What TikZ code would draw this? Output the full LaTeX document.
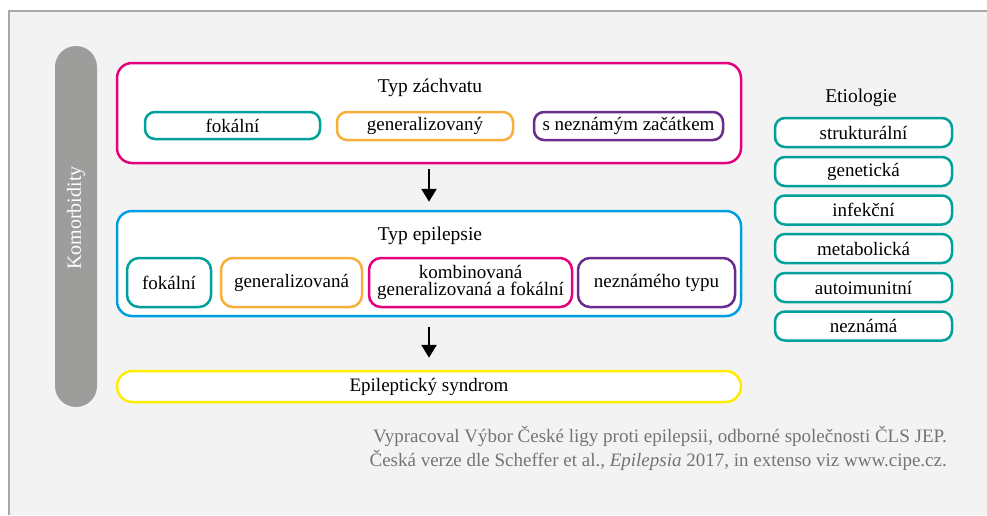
\documentclass[tikz,border=0pt]{standalone}
\usepackage{fontspec}
\setmainfont{Liberation Serif}
\usetikzlibrary{arrows.meta}
\definecolor{cmag}{HTML}{E5007D}
\definecolor{ccyan}{HTML}{009FE3}
\definecolor{cteal}{HTML}{00A19A}
\definecolor{corange}{HTML}{F8AE3A}
\definecolor{cpurple}{HTML}{6A2C8C}
\definecolor{cyellow}{HTML}{FFED00}
\definecolor{cbar}{HTML}{9D9D9C}
\definecolor{cbg}{HTML}{F3F3F3}
\definecolor{cframe}{HTML}{A8A8A8}
\definecolor{cfoot}{HTML}{747473}
\tikzset{
  bigbox/.style={draw, line width=2.5pt, fill=white, rounded corners=15pt, inner sep=0pt},
  pill/.style={draw, line width=2.5pt, fill=white, rounded corners=10pt, inner sep=0pt, font=\fontsize{19}{20}\selectfont, text=black},
  ebox/.style={pill, minimum width=177pt, minimum height=29pt, draw=cteal},
  lbl/.style={font=\fontsize{19.5}{22}\selectfont, text=black, inner sep=0pt},
  flow/.style={line width=2.5pt, -{Triangle[width=15pt,length=13pt]}},
  foot/.style={font=\fontsize{19}{24}\selectfont, text=cfoot, align=right, inner sep=0pt}
}
\begin{document}
\begin{tikzpicture}[x=1pt,y=-1pt]
\useasboundingbox (0,0) rectangle (987,515);
\fill[cbg] (9,11) rectangle (987,515);
\draw[cframe, line width=1.5pt] (9,515) -- (9,11) -- (987,11);
% comorbidity bar
\node[fill=cbar, rounded corners=21pt, minimum width=42pt, minimum height=361pt, inner sep=0pt] (kom) at (76,226.5) {};
\node[rotate=90, text=white, font=\fontsize{20}{22}\selectfont, inner sep=0pt] (komt) at (76,218) {Komorbidity};
% seizure type
\node[bigbox, draw=cmag, minimum width=624pt, minimum height=100pt] (zach) at (429,113) {};
\node[lbl] (zacht) at (430,88) {Typ záchvatu};
\node[pill, draw=cteal, minimum width=175pt, minimum height=27pt] (zf) at (232.5,125.5) {fokální};
\node[pill, draw=corange, minimum width=176pt, minimum height=28pt] (zg) at (425,126) {generalizovaný};
\node[pill, draw=cpurple, minimum width=189pt, minimum height=28pt] (zn) at (628.5,126) {s neznámým začátkem};
% epilepsy type
\node[bigbox, draw=ccyan, minimum width=624pt, minimum height=105pt] (epi) at (429,263.5) {};
\node[lbl] (epit) at (430,236) {Typ epilepsie};
\node[pill, draw=cteal, rounded corners=12pt, minimum width=84pt, minimum height=49pt] (ef) at (169,282.5) {fokální};
\node[pill, draw=corange, rounded corners=12pt, minimum width=141pt, minimum height=49pt] (eg) at (291.5,282.5) {generalizovaná};
\node[pill, draw=cmag, rounded corners=12pt, minimum width=203pt, minimum height=49pt, align=center, font=\fontsize{19}{16.5}\selectfont] (ek) at (470.5,282.5) {kombinovaná\\generalizovaná a fokální};
\node[pill, draw=cpurple, rounded corners=12pt, minimum width=157pt, minimum height=49pt] (en) at (656.5,282.5) {neznámého typu};
% syndrome
\node[bigbox, draw=cyellow, rounded corners=15.5pt, minimum width=624pt, minimum height=31pt, font=\fontsize{19}{20}\selectfont] (syn) at (429,386.5) {Epileptický syndrom};
% arrows
\draw[flow, shorten <=5pt, shorten >=8pt] (zach.south) -- (epi.north);
\draw[flow, shorten <=10pt, shorten >=12pt] (epi.south) -- (syn.north);
% etiology
\node[lbl] (eti) at (861,98) {Etiologie};
\node[ebox] (e1) at (863.5,132.5) {strukturální};
\node[ebox] (e2) at (863.5,171.5) {genetická};
\node[ebox] (e3) at (863.5,210) {infekční};
\node[ebox] (e4) at (863.5,248.5) {metabolická};
\node[ebox] (e5) at (863.5,287.5) {autoimunitní};
\node[ebox] (e6) at (863.5,326) {neznámá};
% footer
\node[foot, anchor=north east] (ft) at (947,426) {Vypracoval Výbor České ligy proti epilepsii, odborné společnosti ČLS JEP.\\Česká verze dle Scheffer et al., \textit{Epilepsia} 2017, in extenso viz www.cipe.cz.};
\end{tikzpicture}
\end{document}
